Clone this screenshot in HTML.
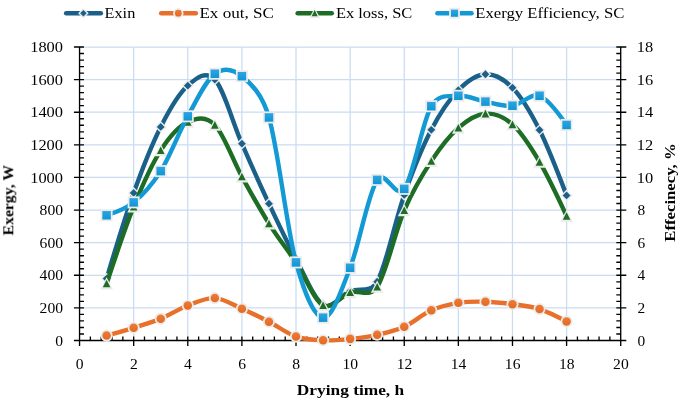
<!DOCTYPE html>
<html><head><meta charset="utf-8"><title>Chart</title>
<style>html,body{margin:0;padding:0;background:#fff}svg{display:block}</style>
</head><body>
<svg width="685" height="406" viewBox="0 0 685 406">
<defs><linearGradient id="gB" x1="0" y1="0" x2="0" y2="1"><stop offset="0" stop-color="#2ea4e4"/><stop offset="1" stop-color="#0f96d2"/></linearGradient><linearGradient id="gO" x1="0" y1="0" x2="0" y2="1"><stop offset="0" stop-color="#ee7a35"/><stop offset="1" stop-color="#e46a22"/></linearGradient></defs>
<rect width="685" height="406" fill="#fff"/>
<path d="M79.55 307.89 H620.71 M79.55 275.28 H620.71 M79.55 242.67 H620.71 M79.55 210.06 H620.71 M79.55 177.44 H620.71 M79.55 144.83 H620.71 M79.55 112.22 H620.71 M79.55 79.61 H620.71 M79.55 47.00 H620.71 M133.67 47.00 V340.50 M187.78 47.00 V340.50 M241.90 47.00 V340.50 M296.01 47.00 V340.50 M350.13 47.00 V340.50 M404.25 47.00 V340.50 M458.36 47.00 V340.50 M512.48 47.00 V340.50 M566.59 47.00 V340.50" stroke="#c9dcf1" stroke-width="1.25" fill="none"/>
<path d="M79.55 47.00 V340.50 M620.71 47.00 V340.50 M79.55 340.50 H620.71 M73.95 340.50 H83.95 M616.31 340.50 H626.31 M79.55 333.98 H83.95 M616.31 333.98 H620.71 M79.55 327.46 H83.95 M616.31 327.46 H620.71 M79.55 320.93 H83.95 M616.31 320.93 H620.71 M79.55 314.41 H83.95 M616.31 314.41 H620.71 M73.95 307.89 H83.95 M616.31 307.89 H626.31 M79.55 301.37 H83.95 M616.31 301.37 H620.71 M79.55 294.84 H83.95 M616.31 294.84 H620.71 M79.55 288.32 H83.95 M616.31 288.32 H620.71 M79.55 281.80 H83.95 M616.31 281.80 H620.71 M73.95 275.28 H83.95 M616.31 275.28 H626.31 M79.55 268.76 H83.95 M616.31 268.76 H620.71 M79.55 262.23 H83.95 M616.31 262.23 H620.71 M79.55 255.71 H83.95 M616.31 255.71 H620.71 M79.55 249.19 H83.95 M616.31 249.19 H620.71 M73.95 242.67 H83.95 M616.31 242.67 H626.31 M79.55 236.14 H83.95 M616.31 236.14 H620.71 M79.55 229.62 H83.95 M616.31 229.62 H620.71 M79.55 223.10 H83.95 M616.31 223.10 H620.71 M79.55 216.58 H83.95 M616.31 216.58 H620.71 M73.95 210.06 H83.95 M616.31 210.06 H626.31 M79.55 203.53 H83.95 M616.31 203.53 H620.71 M79.55 197.01 H83.95 M616.31 197.01 H620.71 M79.55 190.49 H83.95 M616.31 190.49 H620.71 M79.55 183.97 H83.95 M616.31 183.97 H620.71 M73.95 177.44 H83.95 M616.31 177.44 H626.31 M79.55 170.92 H83.95 M616.31 170.92 H620.71 M79.55 164.40 H83.95 M616.31 164.40 H620.71 M79.55 157.88 H83.95 M616.31 157.88 H620.71 M79.55 151.36 H83.95 M616.31 151.36 H620.71 M73.95 144.83 H83.95 M616.31 144.83 H626.31 M79.55 138.31 H83.95 M616.31 138.31 H620.71 M79.55 131.79 H83.95 M616.31 131.79 H620.71 M79.55 125.27 H83.95 M616.31 125.27 H620.71 M79.55 118.74 H83.95 M616.31 118.74 H620.71 M73.95 112.22 H83.95 M616.31 112.22 H626.31 M79.55 105.70 H83.95 M616.31 105.70 H620.71 M79.55 99.18 H83.95 M616.31 99.18 H620.71 M79.55 92.66 H83.95 M616.31 92.66 H620.71 M79.55 86.13 H83.95 M616.31 86.13 H620.71 M73.95 79.61 H83.95 M616.31 79.61 H626.31 M79.55 73.09 H83.95 M616.31 73.09 H620.71 M79.55 66.57 H83.95 M616.31 66.57 H620.71 M79.55 60.04 H83.95 M616.31 60.04 H620.71 M79.55 53.52 H83.95 M616.31 53.52 H620.71 M73.95 47.00 H83.95 M616.31 47.00 H626.31 M79.55 336.50 V346.10 M90.37 336.50 V340.50 M101.20 336.50 V340.50 M112.02 336.50 V340.50 M122.84 336.50 V340.50 M133.67 336.50 V346.10 M144.49 336.50 V340.50 M155.31 336.50 V340.50 M166.14 336.50 V340.50 M176.96 336.50 V340.50 M187.78 336.50 V346.10 M198.61 336.50 V340.50 M209.43 336.50 V340.50 M220.25 336.50 V340.50 M231.07 336.50 V340.50 M241.90 336.50 V346.10 M252.72 336.50 V340.50 M263.54 336.50 V340.50 M274.37 336.50 V340.50 M285.19 336.50 V340.50 M296.01 336.50 V346.10 M306.84 336.50 V340.50 M317.66 336.50 V340.50 M328.48 336.50 V340.50 M339.31 336.50 V340.50 M350.13 336.50 V346.10 M360.95 336.50 V340.50 M371.78 336.50 V340.50 M382.60 336.50 V340.50 M393.42 336.50 V340.50 M404.25 336.50 V346.10 M415.07 336.50 V340.50 M425.89 336.50 V340.50 M436.72 336.50 V340.50 M447.54 336.50 V340.50 M458.36 336.50 V346.10 M469.19 336.50 V340.50 M480.01 336.50 V340.50 M490.83 336.50 V340.50 M501.65 336.50 V340.50 M512.48 336.50 V346.10 M523.30 336.50 V340.50 M534.12 336.50 V340.50 M544.95 336.50 V340.50 M555.77 336.50 V340.50 M566.59 336.50 V346.10 M577.42 336.50 V340.50 M588.24 336.50 V340.50 M599.06 336.50 V340.50 M609.89 336.50 V340.50 M620.71 336.50 V346.10" stroke="#000" stroke-width="1.33" fill="none"/>
<path d="M106.61 278.54 C112.62 258.43 124.65 218.21 133.67 192.93 C142.69 167.66 151.70 144.78 160.72 126.90 C169.74 109.02 178.76 93.53 187.78 85.64 C196.80 77.76 205.82 69.94 214.84 79.61 C223.86 89.29 232.88 123.01 241.90 143.69 C250.92 164.37 259.94 184.48 268.96 203.70 C277.98 222.91 286.99 242.15 296.01 258.97 C305.03 275.79 314.05 299.27 323.07 304.63 C332.09 309.98 341.11 294.93 350.13 291.09 C359.15 287.26 370.16 294.13 377.19 281.64 C386.21 265.60 395.23 220.19 404.25 194.89 C413.27 169.59 422.28 147.28 431.30 129.83 C440.32 112.39 449.34 99.48 458.36 90.21 C467.38 80.94 476.40 74.64 485.42 74.23 C494.44 73.82 503.46 78.47 512.48 87.76 C521.50 97.06 530.52 112.06 539.54 130.00 C548.56 147.93 560.58 179.56 566.59 195.38" stroke="#1a6089" stroke-width="4.4" fill="none" stroke-linecap="round" stroke-linejoin="round"/>
<path d="M106.61 272.69 L112.46 278.54 L106.61 284.39 L100.76 278.54 Z" fill="#ececec"/><path d="M106.61 274.64 L110.51 278.54 L106.61 282.44 L102.71 278.54 Z" fill="#1a6089"/>
<path d="M133.67 187.08 L139.52 192.93 L133.67 198.78 L127.82 192.93 Z" fill="#ececec"/><path d="M133.67 189.03 L137.57 192.93 L133.67 196.83 L129.77 192.93 Z" fill="#1a6089"/>
<path d="M160.72 121.05 L166.57 126.90 L160.72 132.75 L154.87 126.90 Z" fill="#ececec"/><path d="M160.72 123.00 L164.62 126.90 L160.72 130.80 L156.82 126.90 Z" fill="#1a6089"/>
<path d="M187.78 79.79 L193.63 85.64 L187.78 91.49 L181.93 85.64 Z" fill="#ececec"/><path d="M187.78 81.74 L191.68 85.64 L187.78 89.54 L183.88 85.64 Z" fill="#1a6089"/>
<path d="M214.84 73.76 L220.69 79.61 L214.84 85.46 L208.99 79.61 Z" fill="#ececec"/><path d="M214.84 75.71 L218.74 79.61 L214.84 83.51 L210.94 79.61 Z" fill="#1a6089"/>
<path d="M241.90 137.84 L247.75 143.69 L241.90 149.54 L236.05 143.69 Z" fill="#ececec"/><path d="M241.90 139.79 L245.80 143.69 L241.90 147.59 L238.00 143.69 Z" fill="#1a6089"/>
<path d="M268.96 197.85 L274.81 203.70 L268.96 209.55 L263.11 203.70 Z" fill="#ececec"/><path d="M268.96 199.80 L272.86 203.70 L268.96 207.60 L265.06 203.70 Z" fill="#1a6089"/>
<path d="M296.01 253.12 L301.86 258.97 L296.01 264.82 L290.16 258.97 Z" fill="#ececec"/><path d="M296.01 255.07 L299.91 258.97 L296.01 262.87 L292.11 258.97 Z" fill="#1a6089"/>
<path d="M323.07 298.78 L328.92 304.63 L323.07 310.48 L317.22 304.63 Z" fill="#ececec"/><path d="M323.07 300.73 L326.97 304.63 L323.07 308.53 L319.17 304.63 Z" fill="#1a6089"/>
<path d="M350.13 285.24 L355.98 291.09 L350.13 296.94 L344.28 291.09 Z" fill="#ececec"/><path d="M350.13 287.19 L354.03 291.09 L350.13 294.99 L346.23 291.09 Z" fill="#1a6089"/>
<path d="M377.19 275.79 L383.04 281.64 L377.19 287.49 L371.34 281.64 Z" fill="#ececec"/><path d="M377.19 277.74 L381.09 281.64 L377.19 285.54 L373.29 281.64 Z" fill="#1a6089"/>
<path d="M404.25 189.04 L410.10 194.89 L404.25 200.74 L398.40 194.89 Z" fill="#ececec"/><path d="M404.25 190.99 L408.15 194.89 L404.25 198.79 L400.35 194.89 Z" fill="#1a6089"/>
<path d="M431.30 123.98 L437.15 129.83 L431.30 135.68 L425.45 129.83 Z" fill="#ececec"/><path d="M431.30 125.93 L435.20 129.83 L431.30 133.73 L427.40 129.83 Z" fill="#1a6089"/>
<path d="M458.36 84.36 L464.21 90.21 L458.36 96.06 L452.51 90.21 Z" fill="#ececec"/><path d="M458.36 86.31 L462.26 90.21 L458.36 94.11 L454.46 90.21 Z" fill="#1a6089"/>
<path d="M485.42 68.38 L491.27 74.23 L485.42 80.08 L479.57 74.23 Z" fill="#ececec"/><path d="M485.42 70.33 L489.32 74.23 L485.42 78.13 L481.52 74.23 Z" fill="#1a6089"/>
<path d="M512.48 81.91 L518.33 87.76 L512.48 93.61 L506.63 87.76 Z" fill="#ececec"/><path d="M512.48 83.86 L516.38 87.76 L512.48 91.66 L508.58 87.76 Z" fill="#1a6089"/>
<path d="M539.54 124.15 L545.39 130.00 L539.54 135.85 L533.69 130.00 Z" fill="#ececec"/><path d="M539.54 126.10 L543.44 130.00 L539.54 133.90 L535.64 130.00 Z" fill="#1a6089"/>
<path d="M566.59 189.53 L572.44 195.38 L566.59 201.23 L560.74 195.38 Z" fill="#ececec"/><path d="M566.59 191.48 L570.49 195.38 L566.59 199.28 L562.69 195.38 Z" fill="#1a6089"/>
<path d="M106.61 335.61 C112.62 333.94 124.65 330.61 133.67 327.78 C142.69 324.96 151.70 322.37 160.72 318.65 C169.74 314.93 178.76 308.87 187.78 305.44 C196.80 302.02 205.82 297.56 214.84 298.11 C223.86 298.65 232.88 304.76 241.90 308.70 C250.92 312.64 259.94 317.10 268.96 321.75 C277.98 326.40 286.99 333.49 296.01 336.59 C305.03 339.68 314.05 339.96 323.07 340.34 C332.09 340.72 341.11 339.79 350.13 338.87 C359.15 337.95 368.17 336.80 377.19 334.79 C386.21 332.78 395.23 330.88 404.25 326.80 C413.27 322.73 422.28 314.33 431.30 310.33 C440.32 306.34 449.34 304.27 458.36 302.83 C467.38 301.39 476.40 301.48 485.42 301.69 C494.44 301.91 503.46 302.92 512.48 304.14 C521.50 305.36 530.52 306.15 539.54 309.03 C548.56 311.91 560.58 318.25 566.59 321.42" stroke="#e8702a" stroke-width="4.4" fill="none" stroke-linecap="round" stroke-linejoin="round"/>
<circle cx="106.61" cy="335.61" r="6.05" fill="#ececec"/><circle cx="106.61" cy="335.61" r="4.25" fill="url(#gO)"/>
<circle cx="133.67" cy="327.78" r="6.05" fill="#ececec"/><circle cx="133.67" cy="327.78" r="4.25" fill="url(#gO)"/>
<circle cx="160.72" cy="318.65" r="6.05" fill="#ececec"/><circle cx="160.72" cy="318.65" r="4.25" fill="url(#gO)"/>
<circle cx="187.78" cy="305.44" r="6.05" fill="#ececec"/><circle cx="187.78" cy="305.44" r="4.25" fill="url(#gO)"/>
<circle cx="214.84" cy="298.11" r="6.05" fill="#ececec"/><circle cx="214.84" cy="298.11" r="4.25" fill="url(#gO)"/>
<circle cx="241.90" cy="308.70" r="6.05" fill="#ececec"/><circle cx="241.90" cy="308.70" r="4.25" fill="url(#gO)"/>
<circle cx="268.96" cy="321.75" r="6.05" fill="#ececec"/><circle cx="268.96" cy="321.75" r="4.25" fill="url(#gO)"/>
<circle cx="296.01" cy="336.59" r="6.05" fill="#ececec"/><circle cx="296.01" cy="336.59" r="4.25" fill="url(#gO)"/>
<circle cx="323.07" cy="340.34" r="6.05" fill="#ececec"/><circle cx="323.07" cy="340.34" r="4.25" fill="url(#gO)"/>
<circle cx="350.13" cy="338.87" r="6.05" fill="#ececec"/><circle cx="350.13" cy="338.87" r="4.25" fill="url(#gO)"/>
<circle cx="377.19" cy="334.79" r="6.05" fill="#ececec"/><circle cx="377.19" cy="334.79" r="4.25" fill="url(#gO)"/>
<circle cx="404.25" cy="326.80" r="6.05" fill="#ececec"/><circle cx="404.25" cy="326.80" r="4.25" fill="url(#gO)"/>
<circle cx="431.30" cy="310.33" r="6.05" fill="#ececec"/><circle cx="431.30" cy="310.33" r="4.25" fill="url(#gO)"/>
<circle cx="458.36" cy="302.83" r="6.05" fill="#ececec"/><circle cx="458.36" cy="302.83" r="4.25" fill="url(#gO)"/>
<circle cx="485.42" cy="301.69" r="6.05" fill="#ececec"/><circle cx="485.42" cy="301.69" r="4.25" fill="url(#gO)"/>
<circle cx="512.48" cy="304.14" r="6.05" fill="#ececec"/><circle cx="512.48" cy="304.14" r="4.25" fill="url(#gO)"/>
<circle cx="539.54" cy="309.03" r="6.05" fill="#ececec"/><circle cx="539.54" cy="309.03" r="4.25" fill="url(#gO)"/>
<circle cx="566.59" cy="321.42" r="6.05" fill="#ececec"/><circle cx="566.59" cy="321.42" r="4.25" fill="url(#gO)"/>
<path d="M106.61 283.59 C112.62 265.39 124.65 229.00 133.67 206.79 C142.69 184.59 151.70 164.51 160.72 150.38 C169.74 136.25 178.76 126.24 187.78 122.01 C196.80 117.77 205.82 115.84 214.84 124.94 C223.86 134.04 232.88 160.19 241.90 176.63 C250.92 193.07 259.94 209.27 268.96 223.59 C277.98 237.91 286.99 248.94 296.01 262.56 C305.03 276.17 314.05 300.31 323.07 305.28 C332.09 310.25 341.11 295.47 350.13 292.40 C359.15 289.33 369.58 298.38 377.19 286.85 C386.21 273.19 395.23 231.33 404.25 210.38 C413.27 189.43 422.28 174.89 431.30 161.14 C440.32 147.39 449.34 135.78 458.36 127.88 C467.38 119.97 476.40 114.26 485.42 113.69 C494.44 113.12 503.46 116.41 512.48 124.45 C521.50 132.50 530.52 146.68 539.54 161.95 C548.56 177.23 560.58 203.13 566.59 216.09" stroke="#1d6d25" stroke-width="4.4" fill="none" stroke-linecap="round" stroke-linejoin="round"/>
<path d="M106.61 277.19 L113.01 289.39 L100.21 289.39 Z" fill="#ececec"/><path d="M106.61 279.69 L110.41 287.29 L102.81 287.29 Z" fill="#1d6d25"/>
<path d="M133.67 200.39 L140.07 212.59 L127.27 212.59 Z" fill="#ececec"/><path d="M133.67 202.89 L137.47 210.49 L129.87 210.49 Z" fill="#1d6d25"/>
<path d="M160.72 143.98 L167.12 156.18 L154.32 156.18 Z" fill="#ececec"/><path d="M160.72 146.48 L164.52 154.08 L156.92 154.08 Z" fill="#1d6d25"/>
<path d="M187.78 115.61 L194.18 127.81 L181.38 127.81 Z" fill="#ececec"/><path d="M187.78 118.11 L191.58 125.71 L183.98 125.71 Z" fill="#1d6d25"/>
<path d="M214.84 118.54 L221.24 130.74 L208.44 130.74 Z" fill="#ececec"/><path d="M214.84 121.04 L218.64 128.64 L211.04 128.64 Z" fill="#1d6d25"/>
<path d="M241.90 170.23 L248.30 182.43 L235.50 182.43 Z" fill="#ececec"/><path d="M241.90 172.73 L245.70 180.33 L238.10 180.33 Z" fill="#1d6d25"/>
<path d="M268.96 217.19 L275.36 229.39 L262.56 229.39 Z" fill="#ececec"/><path d="M268.96 219.69 L272.76 227.29 L265.16 227.29 Z" fill="#1d6d25"/>
<path d="M296.01 256.16 L302.41 268.36 L289.61 268.36 Z" fill="#ececec"/><path d="M296.01 258.66 L299.81 266.26 L292.21 266.26 Z" fill="#1d6d25"/>
<path d="M323.07 298.88 L329.47 311.08 L316.67 311.08 Z" fill="#ececec"/><path d="M323.07 301.38 L326.87 308.98 L319.27 308.98 Z" fill="#1d6d25"/>
<path d="M350.13 286.00 L356.53 298.20 L343.73 298.20 Z" fill="#ececec"/><path d="M350.13 288.50 L353.93 296.10 L346.33 296.10 Z" fill="#1d6d25"/>
<path d="M377.19 280.45 L383.59 292.65 L370.79 292.65 Z" fill="#ececec"/><path d="M377.19 282.95 L380.99 290.55 L373.39 290.55 Z" fill="#1d6d25"/>
<path d="M404.25 203.98 L410.65 216.18 L397.85 216.18 Z" fill="#ececec"/><path d="M404.25 206.48 L408.05 214.08 L400.45 214.08 Z" fill="#1d6d25"/>
<path d="M431.30 154.74 L437.70 166.94 L424.90 166.94 Z" fill="#ececec"/><path d="M431.30 157.24 L435.10 164.84 L427.50 164.84 Z" fill="#1d6d25"/>
<path d="M458.36 121.48 L464.76 133.68 L451.96 133.68 Z" fill="#ececec"/><path d="M458.36 123.98 L462.16 131.58 L454.56 131.58 Z" fill="#1d6d25"/>
<path d="M485.42 107.29 L491.82 119.49 L479.02 119.49 Z" fill="#ececec"/><path d="M485.42 109.79 L489.22 117.39 L481.62 117.39 Z" fill="#1d6d25"/>
<path d="M512.48 118.05 L518.88 130.25 L506.08 130.25 Z" fill="#ececec"/><path d="M512.48 120.55 L516.28 128.15 L508.68 128.15 Z" fill="#1d6d25"/>
<path d="M539.54 155.55 L545.94 167.75 L533.14 167.75 Z" fill="#ececec"/><path d="M539.54 158.05 L543.34 165.65 L535.74 165.65 Z" fill="#1d6d25"/>
<path d="M566.59 209.69 L572.99 221.89 L560.19 221.89 Z" fill="#ececec"/><path d="M566.59 212.19 L570.39 219.79 L562.79 219.79 Z" fill="#1d6d25"/>
<path d="M106.61 215.27 C112.62 213.43 124.65 209.76 133.67 202.39 C142.69 195.03 151.70 185.43 160.72 171.09 C169.74 156.74 178.76 132.52 187.78 116.30 C196.80 100.07 205.82 80.43 214.84 73.74 C223.86 67.06 232.88 68.90 241.90 76.19 C250.92 83.47 262.07 93.75 268.96 117.44 C277.98 148.47 286.99 229.02 296.01 262.40 C304.04 292.10 314.05 316.78 323.07 317.67 C332.09 318.57 341.11 290.74 350.13 267.78 C359.15 244.81 368.17 193.04 377.19 179.89 C385.25 168.14 395.81 200.35 404.25 188.86 C413.27 176.57 422.28 121.71 431.30 106.19 C438.59 93.65 449.34 96.51 458.36 95.75 C467.38 94.99 476.40 99.97 485.42 101.62 C494.44 103.28 503.46 106.68 512.48 105.70 C521.50 104.72 530.52 92.55 539.54 95.75 C548.56 98.96 560.58 116.28 566.59 124.94" stroke="#1399d4" stroke-width="4.4" fill="none" stroke-linecap="round" stroke-linejoin="round"/>
<rect x="100.61" y="209.27" width="12.00" height="12.00" fill="#ececec"/><rect x="102.36" y="211.02" width="8.50" height="8.50" fill="url(#gB)"/>
<rect x="127.67" y="196.39" width="12.00" height="12.00" fill="#ececec"/><rect x="129.42" y="198.14" width="8.50" height="8.50" fill="url(#gB)"/>
<rect x="154.72" y="165.09" width="12.00" height="12.00" fill="#ececec"/><rect x="156.47" y="166.84" width="8.50" height="8.50" fill="url(#gB)"/>
<rect x="181.78" y="110.30" width="12.00" height="12.00" fill="#ececec"/><rect x="183.53" y="112.05" width="8.50" height="8.50" fill="url(#gB)"/>
<rect x="208.84" y="67.74" width="12.00" height="12.00" fill="#ececec"/><rect x="210.59" y="69.49" width="8.50" height="8.50" fill="url(#gB)"/>
<rect x="235.90" y="70.19" width="12.00" height="12.00" fill="#ececec"/><rect x="237.65" y="71.94" width="8.50" height="8.50" fill="url(#gB)"/>
<rect x="262.96" y="111.44" width="12.00" height="12.00" fill="#ececec"/><rect x="264.71" y="113.19" width="8.50" height="8.50" fill="url(#gB)"/>
<rect x="290.01" y="256.40" width="12.00" height="12.00" fill="#ececec"/><rect x="291.76" y="258.15" width="8.50" height="8.50" fill="url(#gB)"/>
<rect x="317.07" y="311.67" width="12.00" height="12.00" fill="#ececec"/><rect x="318.82" y="313.42" width="8.50" height="8.50" fill="url(#gB)"/>
<rect x="344.13" y="261.78" width="12.00" height="12.00" fill="#ececec"/><rect x="345.88" y="263.53" width="8.50" height="8.50" fill="url(#gB)"/>
<rect x="371.19" y="173.89" width="12.00" height="12.00" fill="#ececec"/><rect x="372.94" y="175.64" width="8.50" height="8.50" fill="url(#gB)"/>
<rect x="398.25" y="182.86" width="12.00" height="12.00" fill="#ececec"/><rect x="400.00" y="184.61" width="8.50" height="8.50" fill="url(#gB)"/>
<rect x="425.30" y="100.19" width="12.00" height="12.00" fill="#ececec"/><rect x="427.05" y="101.94" width="8.50" height="8.50" fill="url(#gB)"/>
<rect x="452.36" y="89.75" width="12.00" height="12.00" fill="#ececec"/><rect x="454.11" y="91.50" width="8.50" height="8.50" fill="url(#gB)"/>
<rect x="479.42" y="95.62" width="12.00" height="12.00" fill="#ececec"/><rect x="481.17" y="97.37" width="8.50" height="8.50" fill="url(#gB)"/>
<rect x="506.48" y="99.70" width="12.00" height="12.00" fill="#ececec"/><rect x="508.23" y="101.45" width="8.50" height="8.50" fill="url(#gB)"/>
<rect x="533.54" y="89.75" width="12.00" height="12.00" fill="#ececec"/><rect x="535.29" y="91.50" width="8.50" height="8.50" fill="url(#gB)"/>
<rect x="560.59" y="118.94" width="12.00" height="12.00" fill="#ececec"/><rect x="562.34" y="120.69" width="8.50" height="8.50" fill="url(#gB)"/>
<path d="M66.20 13.20 H100.80" stroke="#1a6089" stroke-width="4.6" stroke-linecap="round"/>
<path d="M83.40 7.93 L88.67 13.20 L83.40 18.46 L78.14 13.20 Z" fill="#ececec"/><path d="M83.40 9.92 L86.68 13.20 L83.40 16.48 L80.12 13.20 Z" fill="#1a6089"/>
<path d="M161.20 13.20 H195.80" stroke="#e8702a" stroke-width="4.6" stroke-linecap="round"/>
<circle cx="178.30" cy="13.20" r="5.20" fill="#ececec"/><circle cx="178.30" cy="13.20" r="3.40" fill="url(#gO)"/>
<path d="M297.70 13.20 H331.70" stroke="#1d6d25" stroke-width="4.6" stroke-linecap="round"/>
<path d="M314.70 7.70 L320.20 18.19 L309.20 18.19 Z" fill="#ececec"/><path d="M314.70 10.08 L317.74 16.16 L311.66 16.16 Z" fill="#1d6d25"/>
<path d="M437.40 13.20 H471.50" stroke="#1399d4" stroke-width="4.6" stroke-linecap="round"/>
<rect x="449.10" y="7.80" width="10.80" height="10.80" fill="#ececec"/><rect x="450.93" y="9.63" width="7.14" height="7.14" fill="url(#gB)"/>
<g font-family="'Liberation Serif', serif" fill="#000" style="opacity:0.999">
<text x="104.50" y="18.20" font-size="15.20" text-anchor="start" textLength="30.80" lengthAdjust="spacingAndGlyphs">Exin</text>
<text x="199.40" y="18.20" font-size="15.20" text-anchor="start" textLength="74.60" lengthAdjust="spacingAndGlyphs">Ex out, SC</text>
<text x="335.90" y="18.20" font-size="15.20" text-anchor="start" textLength="76.40" lengthAdjust="spacingAndGlyphs">Ex loss, SC</text>
<text x="475.20" y="18.20" font-size="15.20" text-anchor="start" textLength="149.20" lengthAdjust="spacingAndGlyphs">Exergy Efficiency, SC</text>
<text x="63.00" y="345.60" font-size="15.20" text-anchor="end" textLength="7.80" lengthAdjust="spacingAndGlyphs">0</text>
<text x="63.00" y="312.99" font-size="15.20" text-anchor="end" textLength="23.40" lengthAdjust="spacingAndGlyphs">200</text>
<text x="63.00" y="280.38" font-size="15.20" text-anchor="end" textLength="23.40" lengthAdjust="spacingAndGlyphs">400</text>
<text x="63.00" y="247.77" font-size="15.20" text-anchor="end" textLength="23.40" lengthAdjust="spacingAndGlyphs">600</text>
<text x="63.00" y="215.16" font-size="15.20" text-anchor="end" textLength="23.40" lengthAdjust="spacingAndGlyphs">800</text>
<text x="63.00" y="182.54" font-size="15.20" text-anchor="end" textLength="32.80" lengthAdjust="spacingAndGlyphs">1000</text>
<text x="63.00" y="149.93" font-size="15.20" text-anchor="end" textLength="32.80" lengthAdjust="spacingAndGlyphs">1200</text>
<text x="63.00" y="117.32" font-size="15.20" text-anchor="end" textLength="32.80" lengthAdjust="spacingAndGlyphs">1400</text>
<text x="63.00" y="84.71" font-size="15.20" text-anchor="end" textLength="32.80" lengthAdjust="spacingAndGlyphs">1600</text>
<text x="63.00" y="52.10" font-size="15.20" text-anchor="end" textLength="32.80" lengthAdjust="spacingAndGlyphs">1800</text>
<text x="637.60" y="345.60" font-size="15.20" text-anchor="start" textLength="7.70" lengthAdjust="spacingAndGlyphs">0</text>
<text x="637.60" y="312.99" font-size="15.20" text-anchor="start" textLength="7.70" lengthAdjust="spacingAndGlyphs">2</text>
<text x="637.60" y="280.38" font-size="15.20" text-anchor="start" textLength="7.70" lengthAdjust="spacingAndGlyphs">4</text>
<text x="637.60" y="247.77" font-size="15.20" text-anchor="start" textLength="7.70" lengthAdjust="spacingAndGlyphs">6</text>
<text x="637.60" y="215.16" font-size="15.20" text-anchor="start" textLength="7.70" lengthAdjust="spacingAndGlyphs">8</text>
<text x="636.80" y="182.54" font-size="15.20" text-anchor="start" textLength="16.40" lengthAdjust="spacingAndGlyphs">10</text>
<text x="636.80" y="149.93" font-size="15.20" text-anchor="start" textLength="16.40" lengthAdjust="spacingAndGlyphs">12</text>
<text x="636.80" y="117.32" font-size="15.20" text-anchor="start" textLength="16.40" lengthAdjust="spacingAndGlyphs">14</text>
<text x="636.80" y="84.71" font-size="15.20" text-anchor="start" textLength="16.40" lengthAdjust="spacingAndGlyphs">16</text>
<text x="636.80" y="52.10" font-size="15.20" text-anchor="start" textLength="16.40" lengthAdjust="spacingAndGlyphs">18</text>
<text x="79.75" y="368.80" font-size="15.20" text-anchor="middle" textLength="7.80" lengthAdjust="spacingAndGlyphs">0</text>
<text x="133.87" y="368.80" font-size="15.20" text-anchor="middle" textLength="7.80" lengthAdjust="spacingAndGlyphs">2</text>
<text x="187.98" y="368.80" font-size="15.20" text-anchor="middle" textLength="7.80" lengthAdjust="spacingAndGlyphs">4</text>
<text x="242.10" y="368.80" font-size="15.20" text-anchor="middle" textLength="7.80" lengthAdjust="spacingAndGlyphs">6</text>
<text x="296.21" y="368.80" font-size="15.20" text-anchor="middle" textLength="7.80" lengthAdjust="spacingAndGlyphs">8</text>
<text x="350.33" y="368.80" font-size="15.20" text-anchor="middle" textLength="15.60" lengthAdjust="spacingAndGlyphs">10</text>
<text x="404.45" y="368.80" font-size="15.20" text-anchor="middle" textLength="15.60" lengthAdjust="spacingAndGlyphs">12</text>
<text x="458.56" y="368.80" font-size="15.20" text-anchor="middle" textLength="15.60" lengthAdjust="spacingAndGlyphs">14</text>
<text x="512.68" y="368.80" font-size="15.20" text-anchor="middle" textLength="15.60" lengthAdjust="spacingAndGlyphs">16</text>
<text x="566.79" y="368.80" font-size="15.20" text-anchor="middle" textLength="15.60" lengthAdjust="spacingAndGlyphs">18</text>
<text x="620.91" y="368.80" font-size="15.20" text-anchor="middle" textLength="15.60" lengthAdjust="spacingAndGlyphs">20</text>
<text x="350.50" y="395.40" font-size="15.20" text-anchor="middle" font-weight="bold" textLength="107.40" lengthAdjust="spacingAndGlyphs">Drying time, h</text>
<text x="13.50" y="200.20" font-size="15.20" text-anchor="middle" font-weight="bold" textLength="70.40" lengthAdjust="spacingAndGlyphs" transform="rotate(-90 13.50 200.20)">Exergy, W</text>
<text x="675.30" y="192.50" font-size="15.20" text-anchor="middle" font-weight="bold" textLength="98.40" lengthAdjust="spacingAndGlyphs" transform="rotate(-90 675.30 192.50)">Effecinecy, %</text>
</g>
</svg>
</body></html>
